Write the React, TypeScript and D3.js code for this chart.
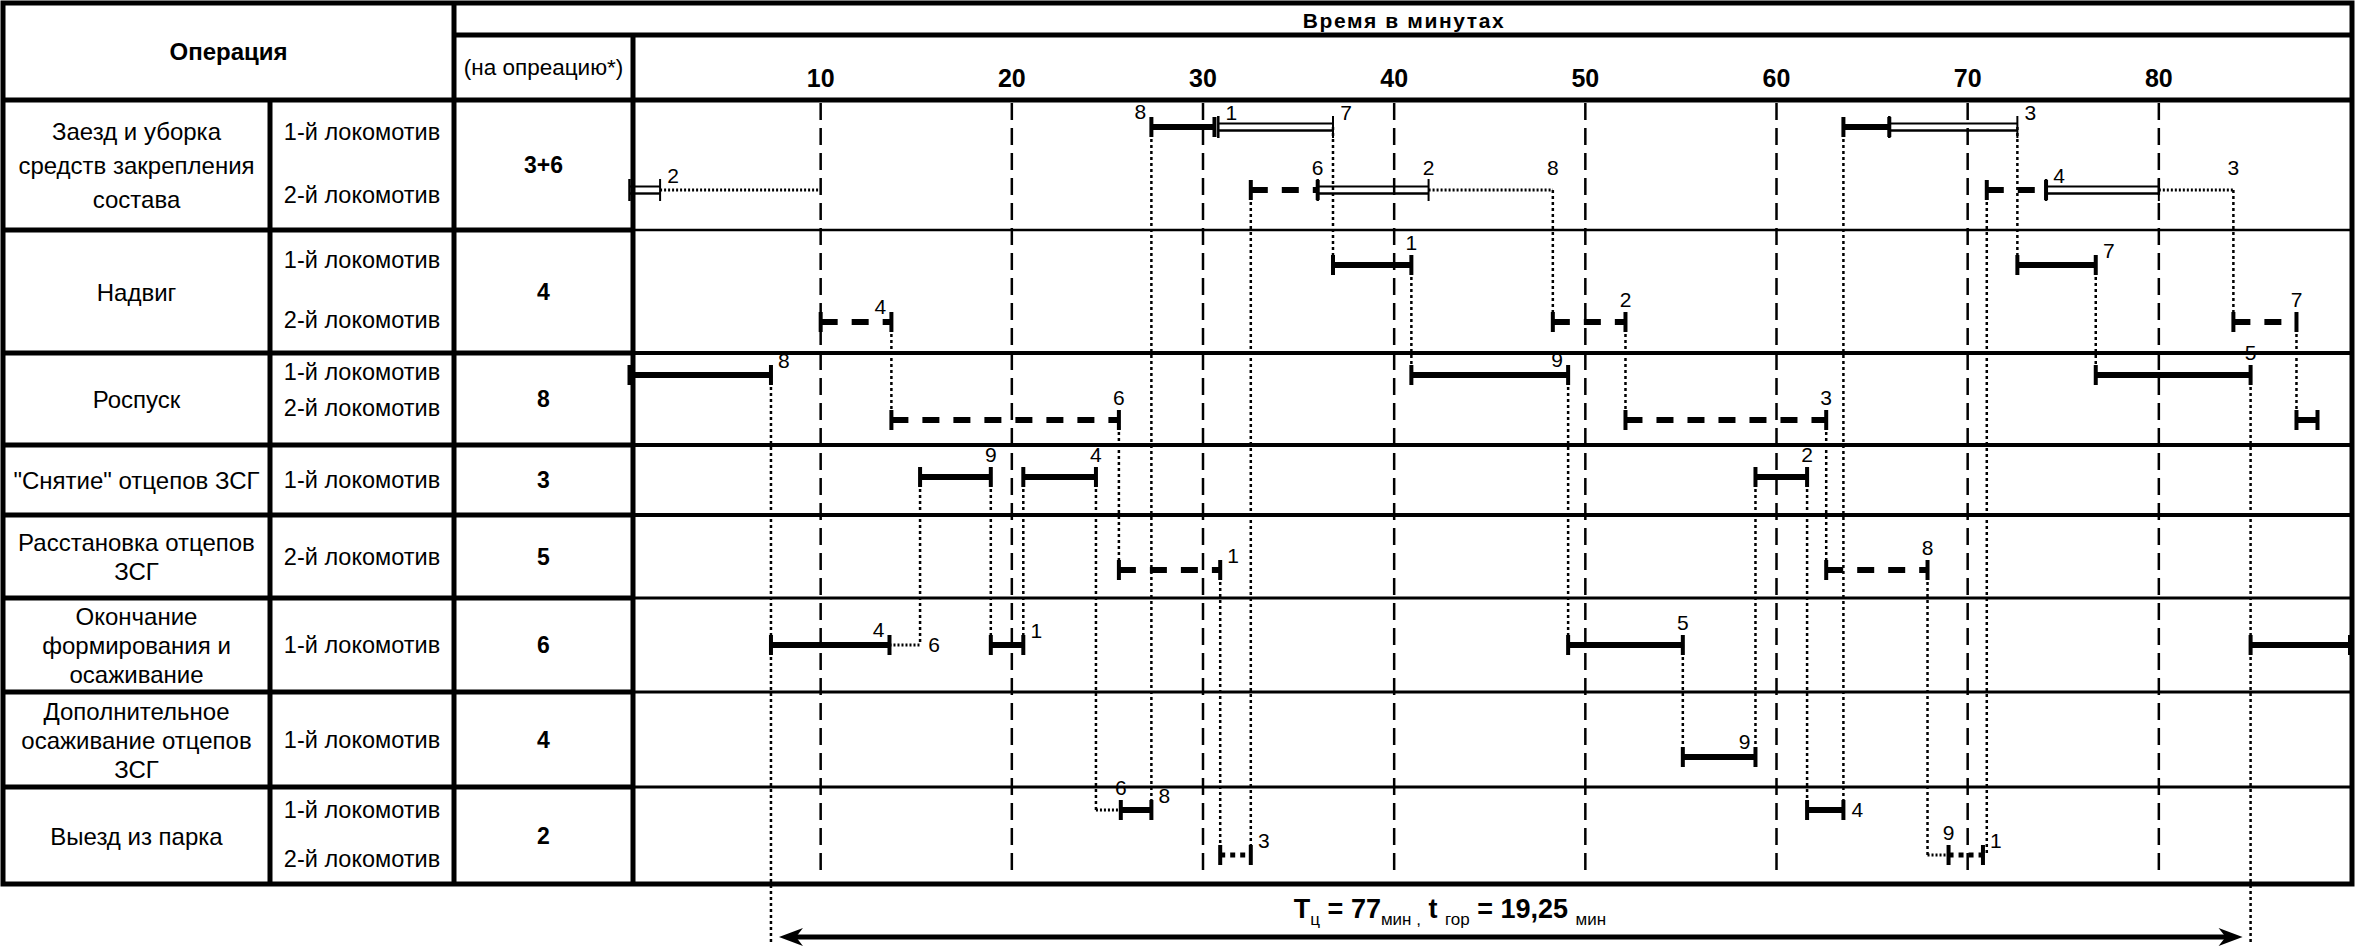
import React from "react";
import * as d3 from "d3";

// ---------- data ----------
const timeTicks = [10, 20, 30, 40, 50, 60, 70, 80];
const timeTitle = "Время в минутах";
const headOperation = "Операция";
const headNorm = "(на опреацию*)";

const operationNames = [
  ["Заезд и уборка", "средств закрепления", "состава"],
  ["Надвиг"],
  ["Роспуск"],
  ["\"Снятие\" отцепов ЗСГ"],
  ["Расстановка отцепов", "ЗСГ"],
  ["Окончание", "формирования и", "осаживание"],
  ["Дополнительное", "осаживание отцепов", "ЗСГ"],
  ["Выезд из парка"],
];
const operationNorms = ["3+6", "4", "8", "3", "5", "6", "4", "2"];
const operationLocos = [
  ["1-й локомотив", "2-й локомотив"],
  ["1-й локомотив", "2-й локомотив"],
  ["1-й локомотив", "2-й локомотив"],
  ["1-й локомотив"],
  ["2-й локомотив"],
  ["1-й локомотив"],
  ["1-й локомотив"],
  ["1-й локомотив", "2-й локомотив"],
];

type Kind = "solid" | "dashed" | "double" | "dotted" | "dots";
// lane, start (min), end (min), line kind
const segments: [string, number, number, Kind][] = [
  ["A1", 27.3, 30.6, "solid"],
  ["A1", 30.8, 36.8, "double"],
  ["A1", 63.5, 65.9, "solid"],
  ["A1", 65.9, 72.6, "double"],
  ["A2", 0, 1.6, "double"],
  ["A2", 1.6, 10, "dotted"],
  ["A2", 32.5, 36.0, "dashed"],
  ["A2", 36.0, 41.8, "double"],
  ["A2", 41.8, 48.3, "dotted"],
  ["A2", 71.0, 74.1, "dashed"],
  ["A2", 74.1, 80.0, "double"],
  ["A2", 80.0, 83.9, "dotted"],
  ["B1", 36.8, 40.9, "solid"],
  ["B1", 72.6, 76.7, "solid"],
  ["B2", 10.0, 13.7, "dashed"],
  ["B2", 48.3, 52.1, "dashed"],
  ["B2", 83.9, 87.2, "dashed"],
  ["C1", 0, 7.4, "solid"],
  ["C1", 40.9, 49.1, "solid"],
  ["C1", 76.7, 84.8, "solid"],
  ["C2", 13.7, 25.6, "dashed"],
  ["C2", 52.1, 62.6, "dashed"],
  ["C2", 87.2, 88.3, "solid"],
  ["D", 15.2, 18.9, "solid"],
  ["D", 20.6, 24.4, "solid"],
  ["D", 58.9, 61.6, "solid"],
  ["E", 25.6, 30.9, "dashed"],
  ["E", 62.6, 67.9, "dashed"],
  ["F", 7.4, 13.6, "solid"],
  ["F", 13.6, 15.2, "dotted"],
  ["F", 18.9, 20.6, "solid"],
  ["F", 49.1, 55.1, "solid"],
  ["F", 84.8, 90, "solid"],
  ["G", 55.1, 58.9, "solid"],
  ["H1", 24.4, 25.7, "dotted"],
  ["H1", 25.7, 27.3, "solid"],
  ["H1", 61.6, 63.5, "solid"],
  ["H2", 30.9, 32.5, "dots"],
  ["H2", 67.9, 69.0, "dotted"],
  ["H2", 69.0, 70.8, "dots"],
];

type Side = "u" | "ul" | "ur" | "r";
// lane, time, track number, side of the point
const labels: [string, number, string, Side][] = [
  ["A1", 27.3, "8", "ul"],
  ["A1", 30.8, "1", "ur"],
  ["A1", 36.8, "7", "ur"],
  ["A1", 72.6, "3", "ur"],
  ["A2", 1.6, "2", "ur"],
  ["A2", 36.0, "6", "u"],
  ["A2", 41.8, "2", "u"],
  ["A2", 48.3, "8", "u"],
  ["A2", 74.1, "4", "ur"],
  ["A2", 83.9, "3", "u"],
  ["B1", 40.9, "1", "u"],
  ["B1", 76.7, "7", "ur"],
  ["B2", 13.7, "4", "ul"],
  ["B2", 52.1, "2", "u"],
  ["B2", 87.2, "7", "u"],
  ["C1", 7.4, "8", "ur"],
  ["C1", 49.1, "9", "ul"],
  ["C1", 84.8, "5", "u"],
  ["C2", 25.6, "6", "u"],
  ["C2", 62.6, "3", "u"],
  ["D", 18.9, "9", "u"],
  ["D", 24.4, "4", "u"],
  ["D", 61.6, "2", "u"],
  ["E", 30.9, "1", "ur"],
  ["E", 67.9, "8", "u"],
  ["F", 13.6, "4", "ul"],
  ["F", 15.2, "6", "r"],
  ["F", 20.6, "1", "ur"],
  ["F", 55.1, "5", "u"],
  ["G", 58.9, "9", "ul"],
  ["H1", 25.7, "6", "u"],
  ["H1", 27.3, "8", "ur"],
  ["H1", 63.5, "4", "r"],
  ["H2", 32.5, "3", "ur"],
  ["H2", 69.0, "9", "u"],
  ["H2", 70.8, "1", "ur"],
];

// vertical links: time, from lane, to lane
const connectors: [number, string, string][] = [
  [7.4, "C1", "CYCLE"],
  [84.8, "C1", "CYCLE"],
  [27.3, "A1", "H1"],
  [32.5, "A2", "H2"],
  [36.8, "A1", "B1"],
  [13.7, "B2", "C2"],
  [40.9, "B1", "C1"],
  [48.3, "A2", "B2"],
  [52.1, "B2", "C2"],
  [63.5, "A1", "H1"],
  [71.0, "A2", "H2"],
  [72.6, "A1", "B1"],
  [76.7, "B1", "C1"],
  [83.9, "A2", "B2"],
  [87.2, "B2", "C2"],
  [25.6, "C2", "E"],
  [62.6, "C2", "E"],
  [49.1, "C1", "F"],
  [15.2, "D", "F"],
  [18.9, "D", "F"],
  [20.6, "D", "F"],
  [24.4, "D", "H1"],
  [30.9, "E", "H2"],
  [58.9, "D", "G"],
  [61.6, "D", "H1"],
  [55.1, "F", "G"],
  [67.9, "E", "H2"],
];

const cycle = [7.4, 84.8];
const cycleMinutes = "77";
const gorkaMinutes = "19,25";

// ---------- layout ----------
const W = 2356;
const H = 950;
const L = 3;
const R = 2352;
const T = 3;
const HDR1 = 35;
const HDR2 = 100;
const rowEdges = [100, 230, 353, 445, 515, 598, 692, 787, 884];
const chartRowWidths = [2.5, 4, 4, 4, 3, 3, 3];
const COL1 = 270;
const COL2 = 454;
const COL3 = 633;
const laneIds = ["A1", "A2", "B1", "B2", "C1", "C2", "D", "E", "F", "G", "H1", "H2", "CYCLE"];
const laneYs = [127, 190, 265, 322, 375, 420, 477, 570, 645, 757, 810, 855, 944];
// text lines of the "locomotive" column for two-locomotive rows
const locoTextY: Record<number, number[]> = { 0: [132, 195], 1: [260, 320], 2: [372, 408], 7: [810, 859] };
const ARROW_Y = 937;
const FORMULA_X = 1450;

const SANS = "'Liberation Sans', Arial, Helvetica, sans-serif";
const NARROW = "'Liberation Sans Narrow', 'Arial Narrow', 'Liberation Sans', Arial, sans-serif";

export default function App() {
  const x = d3.scaleLinear().domain([0, 90]).range([629.5, 2350]);
  const y = d3.scaleOrdinal<string, number>().domain(laneIds).range(laneYs);

  const labelPos = (side: Side) => {
    switch (side) {
      case "u":
        return [0, -15];
      case "ul":
        return [-11, -8];
      case "ur":
        return [13, -7];
      default:
        return [14, 7];
    }
  };

  const drawSegment = (s: [string, number, number, Kind], i: number) => {
    const [lane, a, b, kind] = s;
    const x1 = x(a);
    const x2 = x(b);
    const yy = y(lane);
    const parts: React.ReactNode[] = [];
    if (kind === "solid") {
      parts.push(<line key="l" x1={x1} x2={x2} y1={yy} y2={yy} stroke="#000" strokeWidth={6} />);
    } else if (kind === "dashed") {
      parts.push(
        <line key="l" x1={x1} x2={x2} y1={yy} y2={yy} stroke="#000" strokeWidth={6} strokeDasharray="17 14" />
      );
    } else if (kind === "double") {
      parts.push(<line key="a" x1={x1} x2={x2} y1={yy - 3.5} y2={yy - 3.5} stroke="#000" strokeWidth={2} />);
      parts.push(<line key="b" x1={x1} x2={x2} y1={yy + 3.5} y2={yy + 3.5} stroke="#000" strokeWidth={2.4} />);
    } else if (kind === "dotted") {
      parts.push(
        <line key="l" x1={x1} x2={x2} y1={yy} y2={yy} stroke="#000" strokeWidth={3} strokeDasharray="2 2" />
      );
    } else {
      parts.push(
        <line key="l" x1={x1} x2={x2} y1={yy} y2={yy} stroke="#000" strokeWidth={5} strokeDasharray="5 5" />
      );
    }
    if (kind === "solid" || kind === "dashed" || kind === "dots") {
      parts.push(<line key="t1" x1={x1} x2={x1} y1={yy - 10} y2={yy + 10} stroke="#000" strokeWidth={4} />);
      parts.push(<line key="t2" x1={x2} x2={x2} y1={yy - 10} y2={yy + 10} stroke="#000" strokeWidth={4} />);
    } else if (kind === "double") {
      parts.push(<line key="t1" x1={x1} x2={x1} y1={yy - 11} y2={yy + 11} stroke="#000" strokeWidth={2.5} />);
      parts.push(<line key="t2" x1={x2} x2={x2} y1={yy - 11} y2={yy + 11} stroke="#000" strokeWidth={2} />);
    }
    return <g key={"s" + i}>{parts}</g>;
  };

  const rowCenter = (i: number) => (rowEdges[i] + rowEdges[i + 1]) / 2;
  const xa = x(cycle[0]) + 8;
  const xb = x(cycle[1]) - 8;

  return (
    <svg
      width={W}
      height={H}
      viewBox={`0 0 ${W} ${H}`}
      style={{ position: "absolute", left: 0, top: 0, background: "#fff" }}
    >
      <rect x={0} y={0} width={W} height={H} fill="#fff" />

      {/* time grid */}
      {timeTicks.map((t) => (
        <line
          key={"g" + t}
          x1={x(t)}
          x2={x(t)}
          y1={HDR2 + 3}
          y2={rowEdges[rowEdges.length - 1] - 8}
          stroke="#000"
          strokeWidth={2.5}
          strokeDasharray="17 8"
        />
      ))}

      {/* chart row lines */}
      {rowEdges.slice(1, -1).map((ry, i) => (
        <line key={"cr" + i} x1={COL3} x2={R} y1={ry} y2={ry} stroke="#000" strokeWidth={chartRowWidths[i]} />
      ))}
      {/* left table row lines */}
      {rowEdges.slice(1, -1).map((ry, i) => (
        <line key={"lr" + i} x1={L} x2={COL3} y1={ry} y2={ry} stroke="#000" strokeWidth={5} />
      ))}

      {/* table frame */}
      <line x1={COL2} x2={R} y1={HDR1} y2={HDR1} stroke="#000" strokeWidth={5} />
      <line x1={L} x2={R} y1={HDR2} y2={HDR2} stroke="#000" strokeWidth={5} />
      <line x1={COL1} x2={COL1} y1={HDR2} y2={rowEdges[8]} stroke="#000" strokeWidth={5} />
      <line x1={COL2} x2={COL2} y1={T} y2={rowEdges[8]} stroke="#000" strokeWidth={5} />
      <line x1={COL3} x2={COL3} y1={HDR1} y2={rowEdges[8]} stroke="#000" strokeWidth={5} />
      <rect x={L} y={T} width={R - L} height={rowEdges[8] - T} fill="none" stroke="#000" strokeWidth={5} />

      {/* connectors */}
      {connectors.map(([t, a, b], i) => (
        <line
          key={"c" + i}
          x1={x(t)}
          x2={x(t)}
          y1={y(a)}
          y2={y(b)}
          stroke="#000"
          strokeWidth={2.5}
          strokeDasharray="3 3"
        />
      ))}

      {/* operations */}
      {segments.map(drawSegment)}

      {/* track numbers */}
      {labels.map(([lane, t, txt, side], i) => {
        const [dx, dy] = labelPos(side);
        return (
          <text
            key={"n" + i}
            x={x(t) + dx}
            y={y(lane) + dy}
            textAnchor="middle"
            fontFamily={NARROW}
            fontSize={21}
            fill="#000"
          >
            {txt}
          </text>
        );
      })}

      {/* header */}
      <text x={(L + COL2) / 2} y={(T + HDR2) / 2} textAnchor="middle" dominantBaseline="central" fontFamily={SANS} fontWeight="bold" fontSize={24}>
        {headOperation}
      </text>
      <text x={(COL2 + R) / 2 + 1} y={(T + HDR1) / 2 + 1} textAnchor="middle" dominantBaseline="central" fontFamily={SANS} fontWeight="bold" fontSize={21} letterSpacing={1.6}>
        {timeTitle}
      </text>
      <text x={(COL2 + COL3) / 2} y={(HDR1 + HDR2) / 2} textAnchor="middle" dominantBaseline="central" fontFamily={SANS} fontSize={22.5}>
        {headNorm}
      </text>
      {timeTicks.map((t) => (
        <text key={"tl" + t} x={x(t)} y={78} textAnchor="middle" dominantBaseline="central" fontFamily={NARROW} fontWeight="bold" fontSize={25}>
          {t}
        </text>
      ))}

      {/* left table */}
      {operationNames.map((lines, i) => {
        const lh = rowEdges[i + 1] - rowEdges[i] > 120 ? 34 : 29;
        const y0 = rowCenter(i) - ((lines.length - 1) * lh) / 2;
        return (
          <text key={"op" + i} textAnchor="middle" dominantBaseline="central" fontFamily={SANS} fontSize={24}>
            {lines.map((ln, j) => (
              <tspan key={j} x={(L + COL1) / 2} y={y0 + j * lh}>
                {ln}
              </tspan>
            ))}
          </text>
        );
      })}
      {operationLocos.map((locos, i) =>
        locos.map((lc, j) => (
          <text
            key={"lc" + i + j}
            x={(COL1 + COL2) / 2}
            y={locos.length > 1 ? locoTextY[i][j] : rowCenter(i)}
            textAnchor="middle"
            dominantBaseline="central"
            fontFamily={SANS}
            fontSize={23.5}
          >
            {lc}
          </text>
        ))
      )}
      {operationNorms.map((v, i) => (
        <text key={"nv" + i} x={(COL2 + COL3) / 2} y={rowCenter(i)} textAnchor="middle" dominantBaseline="central" fontFamily={SANS} fontWeight="bold" fontSize={23}>
          {v}
        </text>
      ))}

      {/* cycle arrow */}
      <line x1={xa + 14} x2={xb - 14} y1={ARROW_Y} y2={ARROW_Y} stroke="#000" strokeWidth={5} />
      <polygon points={`${xa},${ARROW_Y} ${xa + 24},${ARROW_Y - 9} ${xa + 17},${ARROW_Y} ${xa + 24},${ARROW_Y + 9}`} fill="#000" />
      <polygon points={`${xb},${ARROW_Y} ${xb - 24},${ARROW_Y - 9} ${xb - 17},${ARROW_Y} ${xb - 24},${ARROW_Y + 9}`} fill="#000" />
      <text x={FORMULA_X} y={918} textAnchor="middle" fontFamily={SANS} fontWeight="bold" fontSize={27}>
        <tspan>T</tspan>
        <tspan fontSize={17} fontWeight="normal" dy={7}>ц</tspan>
        <tspan dy={-7}>{" = " + cycleMinutes}</tspan>
        <tspan fontSize={17} fontWeight="normal" dy={7}>{"мин ,"}</tspan>
        <tspan dy={-7}>{" t "}</tspan>
        <tspan fontSize={17} fontWeight="normal" dy={7}>гор</tspan>
        <tspan dy={-7}>{" = " + gorkaMinutes + " "}</tspan>
        <tspan fontSize={17} fontWeight="normal" dy={7}>мин</tspan>
      </text>
    </svg>
  );
}
